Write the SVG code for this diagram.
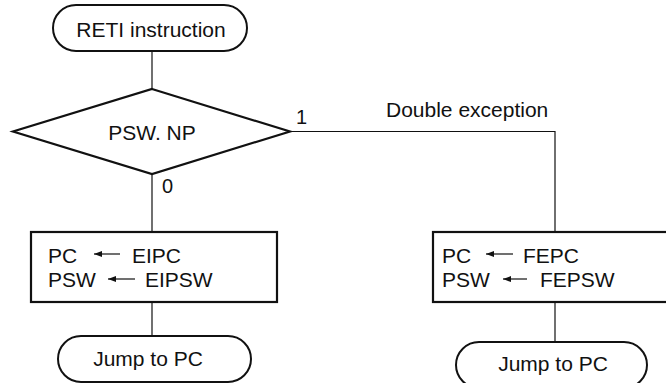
<svg xmlns="http://www.w3.org/2000/svg" width="666" height="383" viewBox="0 0 666 383">
<defs>
<style>
text{font-family:"Liberation Sans",Arial,sans-serif;font-size:21px;fill:#111}
.lbl{font-size:20px}
.shape{fill:#fff;stroke:#111;stroke-width:2.2}
.term{fill:#fff;stroke:#111;stroke-width:2}
.conn{fill:none;stroke:#111;stroke-width:1.2}
.arr{fill:none;stroke:#111;stroke-width:1.2;marker-start:url(#ah)}
</style>
<marker id="ah" viewBox="0 0 8 6" refX="0" refY="3" markerWidth="8" markerHeight="6" markerUnits="userSpaceOnUse" orient="auto">
<path d="M8,0 L0,3 L8,6 Z" fill="#111"/>
</marker>
</defs>
<g id="connectors">
<line class="conn" x1="152" y1="51" x2="152" y2="89"/>
<line class="conn" x1="152" y1="174" x2="152" y2="232"/>
<polyline class="conn" points="290,131.5 555,131.5 555,232"/>
<line class="conn" x1="152" y1="302" x2="152" y2="336"/>
<line class="conn" x1="555" y1="302" x2="555" y2="342"/>
<text x="296" y="124" class="lbl">1</text>
<text x="162" y="193" class="lbl">0</text>
<text x="386" y="117">Double exception</text>
</g>
<g id="start">
<rect class="term" x="53" y="5" width="194" height="46" rx="23" ry="23"/>
<text x="151" y="37" text-anchor="middle">RETI instruction</text>
</g>
<g id="decision">
<polygon class="shape" points="152,89 290,131.5 152,174 13,131.5"/>
<text x="152" y="140" text-anchor="middle">PSW. NP</text>
</g>
<g id="box-ei">
<rect class="shape" x="31" y="232" width="246" height="70"/>
<text x="48" y="263">PC</text>
<line class="arr" x1="94" y1="254" x2="120" y2="254"/>
<text x="132" y="263">EIPC</text>
<text x="48" y="287">PSW</text>
<line class="arr" x1="108" y1="279" x2="135" y2="279"/>
<text x="145" y="287">EIPSW</text>
</g>
<g id="box-fe">
<rect class="shape" x="433" y="232" width="250" height="70"/>
<text x="442" y="263">PC</text>
<line class="arr" x1="486" y1="254" x2="513" y2="254"/>
<text x="523" y="263">FEPC</text>
<text x="442" y="287">PSW</text>
<line class="arr" x1="503" y1="279" x2="527" y2="279"/>
<text x="540" y="287">FEPSW</text>
</g>
<g id="end-ei">
<rect class="term" x="58" y="336" width="193" height="46" rx="23" ry="23"/>
<text x="148" y="366" text-anchor="middle">Jump to PC</text>
</g>
<g id="end-fe">
<rect class="term" x="456" y="342" width="191" height="46" rx="23" ry="23"/>
<text x="553" y="371" text-anchor="middle">Jump to PC</text>
</g>
</svg>
